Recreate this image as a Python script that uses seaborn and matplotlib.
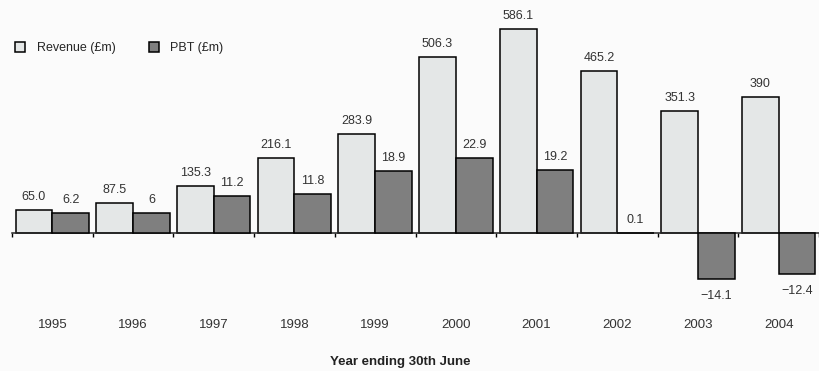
import pandas as pd
import matplotlib.pyplot as plt
import seaborn as sns
from matplotlib.patches import Patch
from matplotlib.ticker import FixedLocator

# ----------- DONNÉES -------------
years = ['1995', '1996', '1997', '1998', '1999', '2000', '2001', '2002', '2003', '2004']
revenue = [65.0, 87.5, 135.3, 216.1, 283.9, 506.3, 586.1, 465.2, 351.3, 390]
pbt = [6.2, 6, 11.2, 11.8, 18.9, 22.9, 19.2, 0.1, -14.1, -12.4]
revenue_labels = ['65.0', '87.5', '135.3', '216.1', '283.9', '506.3', '586.1', '465.2', '351.3', '390']
pbt_labels = ['6.2', '6', '11.2', '11.8', '18.9', '22.9', '19.2', '0.1', '\u221214.1', '\u221212.4']
series = ['Revenue (£m)', 'PBT (£m)']

rev_color = '#e4e7e7'
pbt_color = '#7f7f7f'

sns.set_style('white')
plt.rcParams['font.family'] = ['Liberation Sans', 'DejaVu Sans']

df_rev = pd.DataFrame({'year': years, 'value': revenue, 'series': series[0]})
df_pbt = pd.DataFrame({'year': years, 'value': pbt, 'series': series[1]})

fig = plt.figure(figsize=(8.19, 3.71), dpi=100)
fig.patch.set_facecolor('#fbfbfb')
ax = fig.add_axes([12 / 819, 0.0, 807 / 819, 1.0])
ax.set_facecolor('none')
ax2 = ax.twinx()

# Revenue sur l'axe principal, PBT sur un axe secondaire (échelle différente)
sns.barplot(data=df_rev, x='year', y='value', hue='series', hue_order=series,
            palette=[rev_color, pbt_color], width=0.91, gap=0, dodge=True, ax=ax,
            edgecolor='black', linewidth=1.1, legend=False, errorbar=None)
sns.barplot(data=df_pbt, x='year', y='value', hue='series', hue_order=series,
            palette=[rev_color, pbt_color], width=0.91, gap=0, dodge=True, ax=ax2,
            edgecolor='black', linewidth=1.1, legend=False, errorbar=None)

ax.set_ylim(-396.6, 669.6)
ax2.set_ylim(-42.1, 71.0)
ax.set_xlim(-0.5, len(years) - 0.5)

# Étiquettes de valeurs
for patch, lab in zip(ax.patches, revenue_labels):
    ax.annotate(lab, (patch.get_x() + patch.get_width() / 2, patch.get_height()),
                xytext=(0, 5), textcoords='offset points', ha='center', va='bottom',
                fontsize=9, color='#333333')
for patch, lab, v in zip(ax2.patches, pbt_labels, pbt):
    ax2.annotate(lab, (patch.get_x() + patch.get_width() / 2, v),
                 xytext=(0, 5 if v >= 0 else -8), textcoords='offset points', ha='center',
                 va='bottom' if v >= 0 else 'top', fontsize=9, color='#333333')

# Axe horizontal au niveau zéro
for s in ['top', 'right', 'left']:
    ax.spines[s].set_visible(False)
    ax2.spines[s].set_visible(False)
ax2.spines['bottom'].set_visible(False)
ax.spines['bottom'].set_position(('data', 0))
ax.spines['bottom'].set_linewidth(1.1)
ax.set_yticks([])
ax2.set_yticks([])
ax.set_ylabel('')
ax2.set_ylabel('')
ax.set_xlabel('')
ax2.set_xlabel('')
ax.xaxis.set_minor_locator(FixedLocator([i - 0.5 for i in range(len(years) + 1)]))
ax.tick_params(axis='x', which='major', length=0, pad=62, labelsize=9.5, labelcolor='#333333')
ax.tick_params(axis='x', which='minor', length=3, width=1, direction='out', color='black', bottom=True)

fig.text(400 / 819, 1 - 362 / 371, 'Year ending 30th June', ha='center', va='center',
         fontsize=9.5, fontweight='bold', color='#222222')

handles = [Patch(facecolor=rev_color, edgecolor='black', linewidth=1.1),
           Patch(facecolor=pbt_color, edgecolor='black', linewidth=1.1)]
fig.legend(handles, series, loc='center left', bbox_to_anchor=(0.005, 1 - 48 / 371), ncol=2,
           frameon=False, handlelength=0.8, handleheight=0.8, handletextpad=0.9,
           columnspacing=2.7, fontsize=9)

plt.savefig('out.png', dpi=100, facecolor=fig.get_facecolor())
